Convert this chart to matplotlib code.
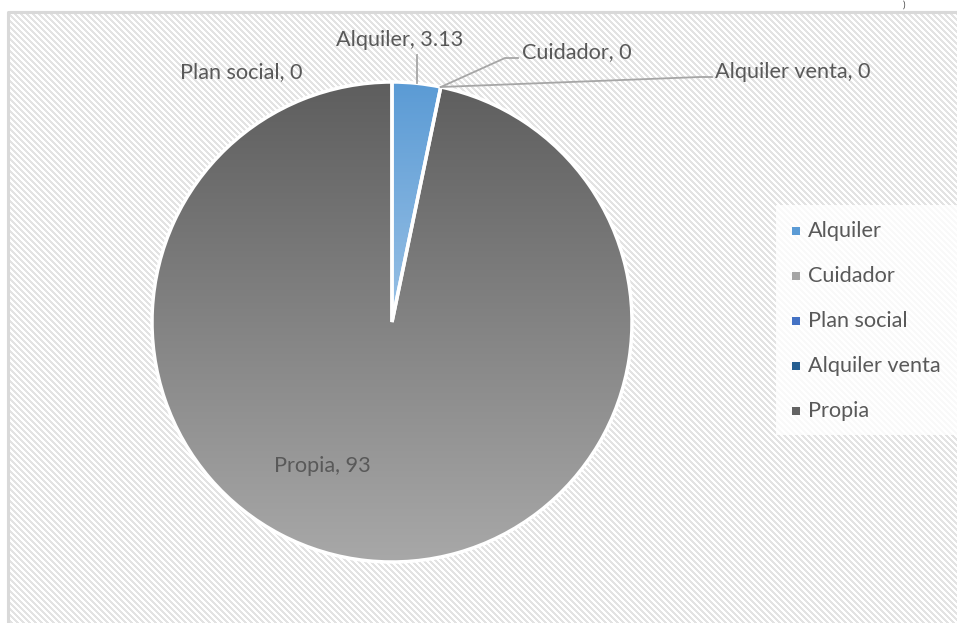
import numpy as np
import matplotlib
matplotlib.use("Agg")
import matplotlib.pyplot as plt
from matplotlib.patches import Rectangle, Wedge
from matplotlib.colors import LinearSegmentedColormap, to_rgb

categories = ["Alquiler", "Cuidador", "Plan social", "Alquiler venta", "Propia"]
values = [3.13, 0, 0, 0, 93]
value_labels = ["3.13", "0", "0", "0", "93"]
base_colors = ["#5b9bd5", "#a5a5a5", "#4472c4", "#255e91", "#636363"]
# top / bottom colours of the vertical gradient in each slice
grad_top = ["#5b9bd5", "#a5a5a5", "#4472c4", "#255e91", "#5e5e5e"]
grad_bottom = ["#d6e6f5", "#d0d0d0", "#a8bde6", "#8fb0d0", "#a8a8a8"]

W, H = 957, 623
plt.rcParams["font.family"] = ["Lato", "DejaVu Sans"]

fig = plt.figure(figsize=(W / 100, H / 100), dpi=100)
ax = fig.add_axes([0, 0, 1, 1])

def py(y):
    return H - y

# chart area background: thin diagonal stripes on white
rows, cols = np.mgrid[0:H, 0:W]
stripe = ((cols - rows) % 6) < 3
inside = (cols >= 9) & (rows >= 13)
bg = np.ones((H, W, 3))
bg[stripe & inside] = to_rgb("#e3e3e3")
ax.imshow(bg, extent=(0, W, 0, H), origin="upper", interpolation="nearest",
          zorder=0)
ax.plot([8, 8, W + 5], [py(H + 5), py(12), py(12)], color="#d9d9d9", lw=2.2, zorder=1)
ax.text(904, py(1), ")", fontsize=7, color="#444444", ha="center", va="top")

cx, cy, r = 392, py(322), 240
wedges, _ = ax.pie(values, colors=base_colors, startangle=90, counterclock=False,
                   center=(cx, cy), radius=r, frame=True,
                   wedgeprops=dict(edgecolor="white", linewidth=0))
ax.set_xlim(0, W)
ax.set_ylim(0, H)
ax.set_aspect("auto")
ax.axis("off")

grad = np.linspace(0, 1, 256).reshape(-1, 1)
for w, c0, c1 in zip(wedges, grad_top, grad_bottom):
    if w.theta2 - w.theta1 <= 0:
        continue
    cmap = LinearSegmentedColormap.from_list("g", [c0, c1])
    im = ax.imshow(grad, cmap=cmap, extent=(cx - r, cx + r, cy - r, cy + r),
                   origin="upper", aspect="auto", zorder=2, interpolation="bilinear")
    im.set_clip_path(w)
    ax.add_patch(Wedge((cx, cy), r, w.theta1, w.theta2, facecolor="none",
                       edgecolor="white", lw=2.5, zorder=3))

label_color = "#595959"
fs = 15.6

# anchor points on the rim
def rim(w, frac=0.5):
    a = np.deg2rad(w.theta1 + (w.theta2 - w.theta1) * frac)
    return cx + r * np.cos(a), cy + r * np.sin(a)

ax_, ay_ = rim(wedges[0])
ax.plot([ax_, ax_], [ay_, py(55)], color="#a6a6a6", lw=1.3, zorder=4)
ax.text(400, py(40), f"{categories[0]}, {value_labels[0]}", fontsize=fs,
        color=label_color, ha="center", va="center", zorder=5)

zx, zy = rim(wedges[1])
ax.plot([zx, 505, 518], [zy, py(58), py(58)], color="#a6a6a6", lw=1.3, zorder=4)
ax.text(522, py(52), f"{categories[1]}, {value_labels[1]}", fontsize=fs,
        color=label_color, ha="left", va="center", zorder=5)

ax.plot([zx, 700, 712], [zy, py(77), py(77)], color="#a6a6a6", lw=1.3, zorder=4)
ax.text(715, py(72), f"{categories[3]}, {value_labels[3]}", fontsize=fs,
        color=label_color, ha="left", va="center", zorder=5)

ax.text(303, py(72), f"{categories[2]}, {value_labels[2]}", fontsize=fs,
        color=label_color, ha="right", va="center", zorder=5)

ax.text(322, py(466), f"{categories[4]}, {value_labels[4]}", fontsize=fs,
        color=label_color, ha="center", va="center", zorder=5)

# legend
ax.add_patch(Rectangle((776, py(435)), W - 776 + 5, 230, facecolor="white",
                       alpha=0.8, lw=0, zorder=4))
for i, (name, c) in enumerate(zip(categories, base_colors)):
    yy = py(231 + i * 45)
    ax.add_patch(Rectangle((792, yy - 4), 8, 8, facecolor=c, lw=0, zorder=5))
    ax.text(808, yy, name, fontsize=fs, color=label_color, ha="left",
            va="center", zorder=5)

fig.savefig("out.png", dpi=100)
